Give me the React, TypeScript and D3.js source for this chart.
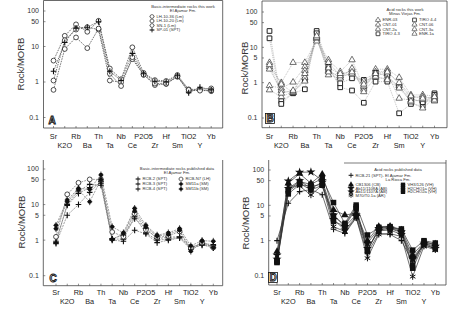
import React from "react";
import * as d3 from "d3";

const ELEMENTS = ["Sr", "K2O", "Rb", "Ba", "Th", "Ta", "Nb", "Ce", "P2O5", "Zr", "Hf", "Sm", "TiO2", "Y", "Yb"];
const TICKS_A = [100, 50, 10, 1, 0.1];
const TICKS_BCD = [100, 50, 10, 5, 1, 0.1];

// Panel A: basic-intermediate rocks this work
const A_LH1036 = [4.0, 20, 42, 26, 53, 2.4, 1.2, 9.5, 1.8, 1.13, 1.07, 1.57, 0.62, 0.62, 0.66];
const A_LH1020 = [1.1, 15, 30, 35, 30, 1.1, 0.98, 4.4, 1.6, 0.82, 0.88, 1.4, 0.55, 0.6, 0.55];
const A_SN1 = [0.6, 8.5, 18, 9, 32, 1.7, 0.77, 5.0, 1.6, 0.9, 0.9, 1.45, 0.6, 0.57, 0.58];
const A_SP01 = [2.0, 13, 33, 35, 50, 2.0, 1.1, 6.4, 1.7, 1.05, 1.0, 1.5, 0.5, 0.71, 0.6];

// Panel B: acid rocks this work
const B_ENR03 = [2.8, 1.0, 3.7, 3.7, 17, 4.4, 2.05, 4.4, 0.74, 2.4, 2.4, 1.4, 0.45, 0.45, 0.42];
const B_CNT01 = [0.82, 0.7, 1.03, 2.8, 15, 3.7, 1.6, 2.3, 0.65, 2.0, 2.1, 0.9, 0.38, 0.4, 0.35];
const B_CNT2A = [3.7, 0.9, 0.52, 2.2, 18, 2.2, 1.4, 1.9, 0.8, 1.65, 1.8, 0.36, 0.32, 0.3, 0.3];
const B_TIRO43 = [29, 0.3, 0.5, 0.65, 29, 2.8, 0.74, 0.6, 0.27, 1.07, 1.07, 0.136, 0.25, 0.22, 0.5];
const B_TIRO44 = [18, 0.25, 0.52, 1.2, 25, 2.4, 0.96, 1.33, 1.2, 1.9, 1.55, 0.74, 0.36, 0.28, 0.45];
const B_CNT06 = [2.4, 0.6, 0.52, 1.4, 20, 1.65, 1.33, 2.55, 0.55, 1.4, 1.3, 0.82, 0.28, 0.19, 0.37];
const B_CNT3A = [0.62, 0.4, 0.55, 1.1, 19, 2.0, 1.55, 1.76, 1.1, 1.5, 1.2, 0.7, 0.3, 0.33, 0.32];
const B_ENR1A = [3.2, 0.5, 0.6, 1.8, 21, 2.6, 1.8, 2.0, 0.9, 1.8, 2.0, 1.0, 0.42, 0.36, 0.4];

// Panel C: basic-intermediate rocks published data
const C_RCB2 = [0.86, 10.1, 24, 37, 35, 1.07, 1.07, 4.5, 1.6, 1.0, 1.07, 1.2, 0.6, 0.8, 0.75];
const C_RCB3 = [0.93, 9.5, 20.6, 30, 40, 1.1, 1.38, 4.0, 2.1, 1.1, 1.2, 1.25, 0.65, 0.72, 0.7];
const C_RCB4 = [0.8, 5.0, 10, 22, 45, 1.0, 0.93, 1.9, 1.5, 0.85, 1.0, 1.15, 0.55, 0.75, 0.6];
const C_RCBN7 = [1.24, 19.4, 41, 51, 51, 1.7, 1.25, 5.6, 1.95, 1.2, 1.3, 1.75, 0.6, 0.85, 0.62];
const C_SM11A = [2.6, 13.4, 28.5, 27, 68, 2.37, 1.6, 7.8, 2.6, 1.38, 1.6, 2.1, 0.69, 0.97, 0.93];
const C_SM11B = [2.1, 12, 26, 12, 50, 1.05, 1.5, 6.5, 2.3, 1.3, 1.45, 1.9, 0.49, 0.93, 0.62];

// Panel D: acid rocks published data
const D_RCB21 = [1.0, 11.4, 24.5, 28, 20, 2.1, 1.6, 4.4, 0.45, 1.6, 1.5, 1.0, 0.25, 0.85, 0.62];
const D_CB1306 = [0.49, 42, 79, 42, 76, 7.4, 5.3, 6.0, 1.0, 2.5, 2.55, 2.0, 0.4, 0.9, 0.8];
const D_AB1108A = [0.39, 49, 86, 88, 50, 5.3, 2.5, 5.3, 0.84, 2.2, 2.3, 1.8, 0.32, 0.85, 0.7];
const D_AB1107A = [0.3, 30, 50, 30, 45, 4.0, 2.0, 4.8, 0.6, 1.9, 2.0, 1.5, 0.3, 0.75, 0.6];
const D_M70 = [0.27, 35, 35, 19.6, 37, 2.5, 1.8, 4.5, 0.32, 1.5, 1.6, 1.3, 0.096, 0.7, 0.55];
const D_VH3126 = [0.25, 27, 47, 39, 58, 12, 3.1, 10.2, 1.45, 2.3, 2.4, 2.15, 0.54, 1.0, 0.86];
const D_H2CHO1A = [0.24, 21, 39, 34, 40, 3.5, 2.6, 8.0, 0.49, 2.4, 2.5, 1.9, 0.2, 0.95, 0.75];
const D_H2CHO2A = [0.26, 25, 42, 27, 37, 5.0, 2.8, 9.0, 0.55, 2.0, 2.2, 1.7, 0.166, 0.8, 0.58];

type S = { name: string; values: number[]; marker: string };

const FONT = "'Liberation Sans', Arial, sans-serif";
const sym = (t: any, s: number) => d3.symbol().type(t).size(s)() as string;

function Marker({ type, x, y }: { type: string; x: number; y: number }) {
  let el: any = null;
  switch (type) {
    case "circleOpen":
      el = <circle r={2.4} fill="#fff" stroke="#222" strokeWidth={0.8} />;
      break;
    case "plus":
      el = <path d="M-2.8,0H2.8M0,-3V3" stroke="#111" strokeWidth={1.1} fill="none" />;
      break;
    case "triOpen":
      el = <path d={sym(d3.symbolTriangle, 18)} fill="#fff" stroke="#333" strokeWidth={0.7} />;
      break;
    case "sqOpen":
      el = <path d={sym(d3.symbolSquare, 22)} fill="#fff" stroke="#222" strokeWidth={1} />;
      break;
    case "dotCross":
      el = (
        <g>
          <circle r={2.1} fill="#111" />
          <path d="M0,-3.4V3.4M-2.6,0H2.6" stroke="#111" strokeWidth={0.8} />
        </g>
      );
      break;
    case "triFilled":
      el = <path d={sym(d3.symbolTriangle, 24)} fill="#111" />;
      break;
    case "starFilled":
      el = <path d={sym(d3.symbolStar, 26)} fill="#111" />;
      break;
    case "asterisk":
      el = <path d={sym(d3.symbolAsterisk, 28)} stroke="#111" strokeWidth={1} fill="none" />;
      break;
    case "sqFilled":
      el = <path d={sym(d3.symbolSquare, 30)} fill="#111" />;
      break;
  }
  return <g transform={`translate(${x},${y})`}>{el}</g>;
}

type Panel = {
  left: number; right: number; top: number; bottom: number;
  xFirst: number; xLast: number; y01: number; y100: number;
  ticks: number[]; titleX: number; titleY: number;
  letter: string; letterX: number; letterY: number; boxed: boolean;
  lineColor: string; lineDash: string; lineWidth: number; topLine: boolean;
  series: S[];
  legendTitles: { text: string; x: number; y: number }[];
  legendItems: { s: number; mx: number; y: number }[];
  labelRow1: number; labelRow2: number;
  extraLine?: [number, number, number];
};

const PANELS: Panel[] = [
  {
    left: 43.5, right: 222.7, top: 0.5, bottom: 128, xFirst: 53.5, xLast: 211.2, y01: 117.5, y100: 11,
    ticks: TICKS_A, titleX: 20.5, titleY: 64, letter: "A", letterX: 52, letterY: 124, boxed: false,
    lineColor: "#555", lineDash: "1.6,1", lineWidth: 0.8, topLine: true,
    series: [
      { name: "LH-10-36 (Lm)", values: A_LH1036, marker: "circleOpen" },
      { name: "LH-10-20 (Lm)", values: A_LH1020, marker: "circleOpen" },
      { name: "SN-1 (Lm)", values: A_SN1, marker: "circleOpen" },
      { name: "SP-01 (SPT)", values: A_SP01, marker: "plus" },
    ],
    legendTitles: [
      { text: "Basic-intermediate rocks this work", x: 183, y: 7.5 },
      { text: "El Ajamar Fm.", x: 183, y: 11.5 },
    ],
    legendItems: [
      { s: 0, mx: 152, y: 16.5 }, { s: 1, mx: 152, y: 21 }, { s: 2, mx: 152, y: 25.5 }, { s: 3, mx: 152, y: 30 },
    ],
    labelRow1: 138.5, labelRow2: 148.3,
  },
  {
    left: 262, right: 447, top: 1, bottom: 127.7, xFirst: 269.5, xLast: 434.5, y01: 118, y100: 12,
    ticks: TICKS_BCD, titleX: 244.5, titleY: 68, letter: "B", letterX: 270, letterY: 122, boxed: true,
    lineColor: "#9a9a9a", lineDash: "1,0.9", lineWidth: 0.6, topLine: true,
    series: [
      { name: "ENR-03", values: B_ENR03, marker: "triOpen" },
      { name: "CNT-01", values: B_CNT01, marker: "triOpen" },
      { name: "CNT-2a", values: B_CNT2A, marker: "triOpen" },
      { name: "TIRO 4-3", values: B_TIRO43, marker: "sqOpen" },
      { name: "TIRO 4-4", values: B_TIRO44, marker: "sqOpen" },
      { name: "CNT-06", values: B_CNT06, marker: "triOpen" },
      { name: "CNT-3a", values: B_CNT3A, marker: "triOpen" },
      { name: "ENR-1a", values: B_ENR1A, marker: "triOpen" },
    ],
    legendTitles: [
      { text: "Acid rocks this work", x: 405, y: 11 },
      { text: "Minas Viejas Fm.", x: 405, y: 15.3 },
    ],
    legendItems: [
      { s: 0, mx: 378, y: 20 }, { s: 1, mx: 378, y: 24.6 }, { s: 2, mx: 378, y: 29.2 }, { s: 3, mx: 378, y: 33.8 },
      { s: 4, mx: 414.5, y: 20 }, { s: 5, mx: 414.5, y: 24.6 }, { s: 6, mx: 414.5, y: 29.2 }, { s: 7, mx: 414.5, y: 33.8 },
    ],
    labelRow1: 138.5, labelRow2: 148.3,
  },
  {
    left: 43.3, right: 222.7, top: 160, bottom: 285.7, xFirst: 56, xLast: 213.3, y01: 275.7, y100: 169,
    ticks: TICKS_BCD, titleX: 21.5, titleY: 222, letter: "C", letterX: 53, letterY: 282, boxed: false,
    lineColor: "#777", lineDash: "2,1", lineWidth: 0.7, topLine: false,
    series: [
      { name: "RCB-2 (SPT)", values: C_RCB2, marker: "plus" },
      { name: "RCB-3 (SPT)", values: C_RCB3, marker: "plus" },
      { name: "RCB-4 (SPT)", values: C_RCB4, marker: "plus" },
      { name: "RCB-N7 (LH)", values: C_RCBN7, marker: "circleOpen" },
      { name: "SM11a (SM)", values: C_SM11A, marker: "dotCross" },
      { name: "SM11b (SM)", values: C_SM11B, marker: "dotCross" },
    ],
    legendTitles: [
      { text: "Basic-intermediate rocks published data", x: 177, y: 169.5 },
      { text: "El Ajamar Fm.", x: 177, y: 174.3 },
    ],
    legendItems: [
      { s: 0, mx: 138, y: 179 }, { s: 1, mx: 138, y: 184 }, { s: 2, mx: 138, y: 189 },
      { s: 3, mx: 181, y: 179 }, { s: 4, mx: 181, y: 184 }, { s: 5, mx: 181, y: 189 },
    ],
    labelRow1: 295, labelRow2: 304.2,
  },
  {
    left: 268.7, right: 446, top: 160, bottom: 285, xFirst: 277, xLast: 435.3, y01: 276, y100: 170,
    ticks: TICKS_BCD, titleX: 246, titleY: 223, letter: "D", letterX: 273, letterY: 281, boxed: true,
    lineColor: "#333", lineDash: "", lineWidth: 0.7, topLine: false,
    series: [
      { name: "RCB-21 (SPT)- El Ajamar Fm.", values: D_RCB21, marker: "plus" },
      { name: "CB1306 (CB)", values: D_CB1306, marker: "triFilled" },
      { name: "Ab11/1108A (AB)", values: D_AB1108A, marker: "starFilled" },
      { name: "Ab11/1107A (AB)", values: D_AB1107A, marker: "starFilled" },
      { name: "M70/T0.1a (AR)", values: D_M70, marker: "asterisk" },
      { name: "VH3/126 (VH)", values: D_VH3126, marker: "sqFilled" },
      { name: "H2CHO1a (VH)", values: D_H2CHO1A, marker: "sqFilled" },
      { name: "H2CHO2a (VH)", values: D_H2CHO2A, marker: "sqFilled" },
    ],
    legendTitles: [
      { text: "Acid rocks published data", x: 398, y: 171.3 },
      { text: "La Rioca Fm.", x: 398, y: 181.2 },
    ],
    legendItems: [
      { s: 0, mx: 351, y: 175.3 },
      { s: 1, mx: 351, y: 184.8 }, { s: 2, mx: 351, y: 188.3 }, { s: 3, mx: 351, y: 191.8 }, { s: 4, mx: 351, y: 195.3 },
      { s: 5, mx: 403, y: 184.8 }, { s: 6, mx: 403, y: 188.3 }, { s: 7, mx: 403, y: 191.8 },
    ],
    labelRow1: 294.6, labelRow2: 304,
    extraLine: [344, 446, 163],
  },
];

function PanelView({ p }: { p: Panel }) {
  const x = d3.scaleLinear().domain([0, ELEMENTS.length - 1]).range([p.xFirst, p.xLast]);
  const y = d3.scaleLog().domain([0.1, 100]).range([p.y01, p.y100]);
  const line = d3.line<number>().x((_, i) => x(i)).y((v) => y(v));
  const fmt = (v: number) => (v < 1 ? String(v) : d3.format("d")(v));
  return (
    <g>
      <line x1={p.left} x2={p.left} y1={p.top} y2={p.bottom} stroke="#444" strokeWidth={0.8} />
      <line x1={p.left} x2={p.right} y1={p.bottom} y2={p.bottom} stroke="#444" strokeWidth={0.8} />
      <line x1={p.right} x2={p.right} y1={p.top} y2={p.bottom} stroke="#444" strokeWidth={0.8} />
      {p.topLine && <line x1={p.left} x2={p.right} y1={p.top} y2={p.top} stroke="#444" strokeWidth={0.8} />}
      {p.extraLine && (
        <line x1={p.extraLine[0]} x2={p.extraLine[1]} y1={p.extraLine[2]} y2={p.extraLine[2]} stroke="#444" strokeWidth={0.7} />
      )}
      {p.ticks.map((t) => (
        <g key={t}>
          <line x1={p.left} x2={p.left + 2} y1={y(t)} y2={y(t)} stroke="#444" strokeWidth={0.6} />
          <text x={p.left - 4.5} y={y(t)} dy="0.35em" textAnchor="end" fontSize={7} fill="#333" fontFamily={FONT}>
            {fmt(t)}
          </text>
        </g>
      ))}
      {ELEMENTS.map((e, i) => (
        <g key={e}>
          <line x1={x(i)} x2={x(i)} y1={p.bottom} y2={p.bottom - 2} stroke="#444" strokeWidth={0.6} />
          <text x={x(i)} y={i % 2 === 0 ? p.labelRow1 : p.labelRow2} textAnchor="middle" fontSize={7.3} fill="#222" fontFamily={FONT}>
            {e}
          </text>
        </g>
      ))}
      <text
        transform={`translate(${p.titleX},${p.titleY}) rotate(-90)`}
        textAnchor="middle"
        dy="0.35em"
        fontSize={9.5}
        fill="#333"
        fontFamily={FONT}
      >
        Rock/MORB
      </text>
      {p.series.map((s, k) => (
        <path key={"l" + k} d={line(s.values) as string} fill="none" stroke={p.lineColor} strokeWidth={p.lineWidth} strokeDasharray={p.lineDash || undefined} />
      ))}
      {p.series.map((s, k) => (
        <g key={"m" + k}>
          {s.values.map((v, i) => (
            <Marker key={i} type={s.marker} x={x(i)} y={y(v)} />
          ))}
        </g>
      ))}
      {p.boxed && <rect x={p.letterX - 4.5} y={p.letterY - 8.5} width={9} height={10} fill="#fff" stroke="#111" strokeWidth={0.8} />}
      <text x={p.letterX} y={p.letterY} textAnchor="middle" fontSize={10} fontWeight="bold" fill="#fff" stroke="#111" strokeWidth={0.9} fontFamily={FONT}>
        {p.letter}
      </text>
      {p.legendTitles.map((t, i) => (
        <text key={"t" + i} x={t.x} y={t.y} textAnchor="middle" fontSize={4.2} fill="#333" fontFamily={FONT}>
          {t.text}
        </text>
      ))}
      {p.legendItems.map((it, i) => {
        const s = p.series[it.s];
        return (
          <g key={"i" + i}>
            <line x1={it.mx - 2.5} x2={it.mx + 2.5} y1={it.y} y2={it.y} stroke="#333" strokeWidth={0.5} />
            <g transform={`translate(${it.mx},${it.y}) scale(0.8) translate(${-it.mx},${-it.y})`}>
              <Marker type={s.marker} x={it.mx} y={it.y} />
            </g>
            <text x={it.mx + 4.5} y={it.y} dy="0.35em" fontSize={4.2} fill="#333" fontFamily={FONT}>
              {s.name}
            </text>
          </g>
        );
      })}
    </g>
  );
}

export default function App() {
  return (
    <svg width={452} height={310} style={{ position: "fixed", left: 0, top: 0, background: "#fff" }}>
      <rect width={452} height={310} fill="#fff" />
      {PANELS.map((p, i) => (
        <PanelView key={i} p={p} />
      ))}
    </svg>
  );
}
